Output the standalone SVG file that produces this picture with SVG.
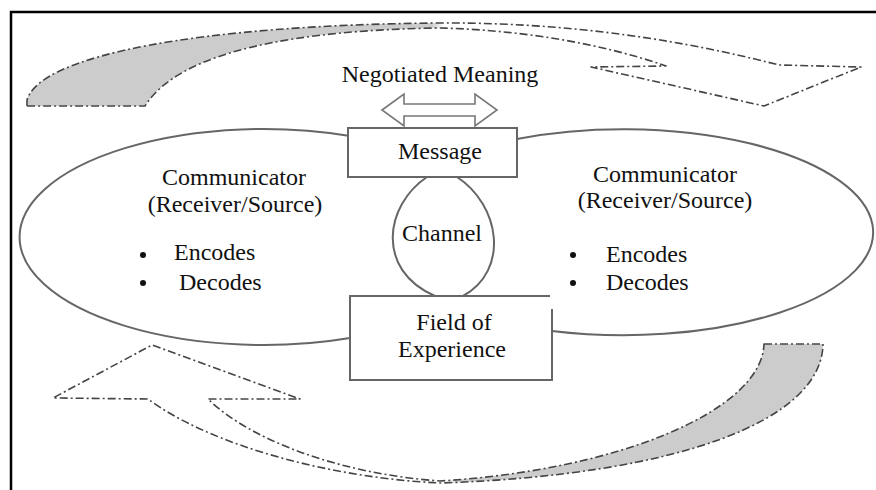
<svg xmlns="http://www.w3.org/2000/svg" width="876" height="490" viewBox="0 0 876 490">
<style>
.t{font-family:"Liberation Serif","Times New Roman",serif;font-size:24px;fill:#111}
.m{text-anchor:middle}
.dash{stroke:#444;stroke-width:1.6;stroke-dasharray:8 3 2 3;stroke-linejoin:round}
.ln{fill:none;stroke:#666;stroke-width:2}
.box{fill:#fff;stroke:#666;stroke-width:2}
</style>
<defs>
<linearGradient id="gTop" gradientUnits="userSpaceOnUse" x1="27" y1="0" x2="861" y2="0">
<stop offset="0" stop-color="#cccccc"/><stop offset="0.485" stop-color="#cccccc"/><stop offset="0.5" stop-color="#ffffff"/><stop offset="1" stop-color="#ffffff"/>
</linearGradient>
<linearGradient id="gBot" gradientUnits="userSpaceOnUse" x1="53" y1="0" x2="823" y2="0">
<stop offset="0" stop-color="#ffffff"/><stop offset="0.51" stop-color="#ffffff"/><stop offset="0.53" stop-color="#cccccc"/><stop offset="1" stop-color="#cccccc"/>
</linearGradient>
</defs>
<rect width="876" height="490" fill="#fff"/>
<g id="frame" stroke="#000" stroke-width="2.5" fill="none">
<path d="M11,490 L11,12 L876,12"/>
</g>
<g id="cycle-top">
<path class="dash" fill="url(#gTop)" d="M27,106 L27,100 C40,55 200,25 440,23 C600,22 720,50 779,65 L861,67 L764,106 L591,67 L666,66 C600,43 520,30 440,28 C300,30 180,50 145,106 Z"/>
</g>
<g id="cycle-bottom">
<path class="dash" fill="url(#gBot)" d="M764,344 L823,344 C822,420 680,475 440,483 C330,478 210,445 148,399 L53,398 L152,345 L300,399 L208,399 C250,440 340,474 440,481 C620,470 762,410 764,344 Z"/>
</g>
<g id="communicator-left">
<path class="ln" d="M350,136 A244,108 0 1 0 350,338"/>
<text class="t m" x="234" y="185">Communicator</text>
<text class="t m" x="235" y="212">(Receiver/Source)</text>
<circle cx="143" cy="255" r="3" fill="#111"/>
<text class="t" x="174" y="260">Encodes</text>
<circle cx="143" cy="283" r="3" fill="#111"/>
<text class="t" x="179" y="290">Decodes</text>
</g>
<g id="communicator-right">
<path class="ln" d="M517,139 A250,103 0 1 1 552,331"/>
<text class="t m" x="665" y="182">Communicator</text>
<text class="t m" x="665" y="208">(Receiver/Source)</text>
<circle cx="573" cy="255" r="3" fill="#111"/>
<text class="t" x="606" y="262">Encodes</text>
<circle cx="573" cy="283" r="3" fill="#111"/>
<text class="t" x="606" y="290">Decodes</text>
</g>
<g id="connectors">
<path id="channel-lens" class="ln" d="M427,177 C385,205 375,270 435,296 M457,177 C500,205 510,270 463,296"/>
<path id="negotiation-arrow" fill="#fff" stroke="#777" stroke-width="1.6" stroke-linejoin="miter" d="M382,110 L404,94 L404,104 L475,104 L475,94 L497,110 L475,126 L475,116 L404,116 L404,126 Z"/>
</g>
<g id="negotiated-meaning">
<text class="t m" x="440" y="82">Negotiated Meaning</text>
</g>
<g id="message">
<rect class="box" x="348" y="128" width="169" height="49"/>
<text class="t m" x="440" y="159">Message</text>
</g>
<g id="channel">
<text class="t m" x="442" y="241">Channel</text>
</g>
<g id="field-of-experience">
<path fill="#fff" stroke="none" d="M350,296 L552,296 L552,380 L350,380 Z"/>
<path class="ln" d="M550,296 L350,296 L350,380 L552,380 L552,309"/>
<text class="t m" x="454" y="330">Field of</text>
<text class="t m" x="452" y="357">Experience</text>
</g>
</svg>
